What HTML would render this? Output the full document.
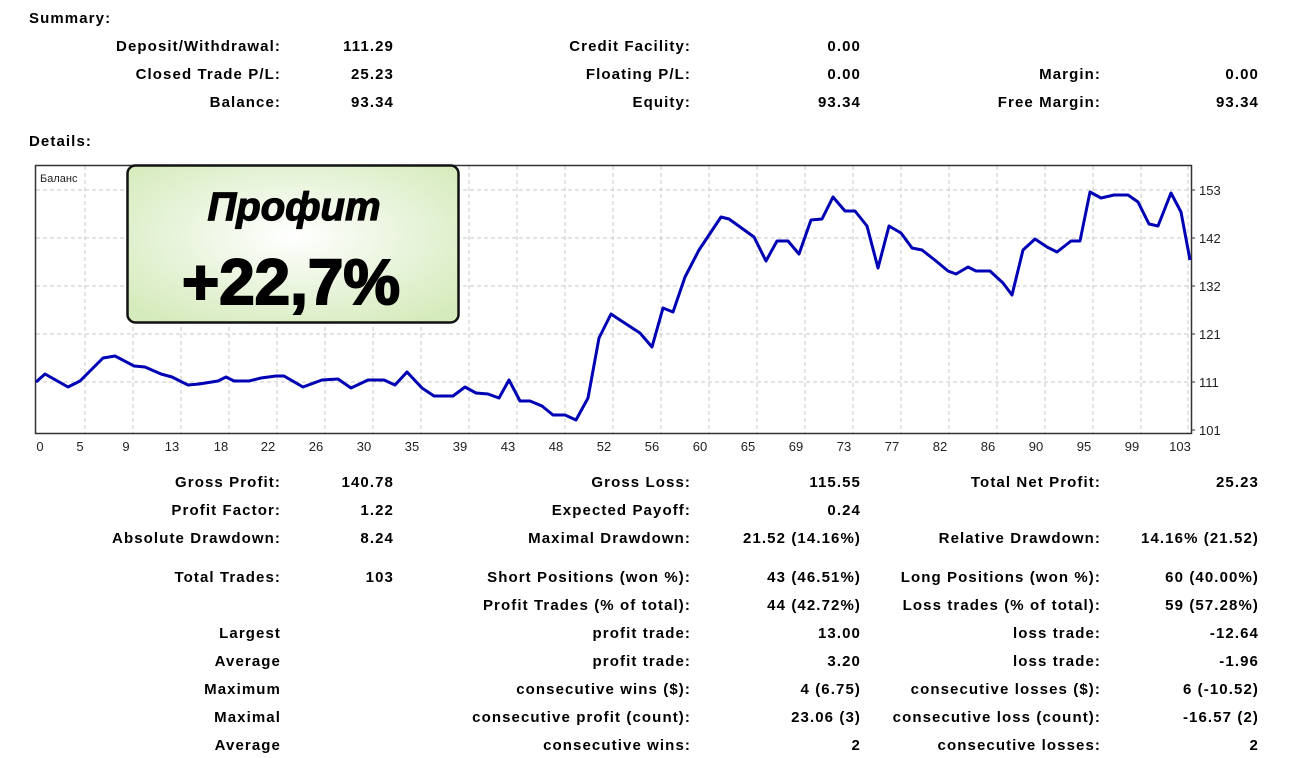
<!DOCTYPE html>
<html><head><meta charset="utf-8"><style>
body{margin:0;width:1304px;height:758px;background:#fff;position:relative;overflow:hidden;font-family:"Liberation Sans","DejaVu Sans",sans-serif;}
.t{position:absolute;font-weight:bold;font-size:15px;color:#000;white-space:nowrap;line-height:18px;letter-spacing:1.1px;}
.r{text-align:right;margin-right:-1px;}
</style></head><body>
<div class="t" style="left:29px;top:10px">Summary:</div>
<div class="t" style="left:29px;top:133px">Details:</div>

<div class="t r" style="right:1024px;top:38px">Deposit/Withdrawal:</div>
<div class="t r" style="right:911px;top:38px">111.29</div>
<div class="t r" style="right:614px;top:38px">Credit Facility:</div>
<div class="t r" style="right:444px;top:38px">0.00</div>

<div class="t r" style="right:1024px;top:66px">Closed Trade P/L:</div>
<div class="t r" style="right:911px;top:66px">25.23</div>
<div class="t r" style="right:614px;top:66px">Floating P/L:</div>
<div class="t r" style="right:444px;top:66px">0.00</div>
<div class="t r" style="right:204px;top:66px">Margin:</div>
<div class="t r" style="right:46px;top:66px">0.00</div>

<div class="t r" style="right:1024px;top:94px">Balance:</div>
<div class="t r" style="right:911px;top:94px">93.34</div>
<div class="t r" style="right:614px;top:94px">Equity:</div>
<div class="t r" style="right:444px;top:94px">93.34</div>
<div class="t r" style="right:204px;top:94px">Free Margin:</div>
<div class="t r" style="right:46px;top:94px">93.34</div>

<svg style="position:absolute;left:0;top:0" width="1304" height="470">
<g stroke="#c8c8c8" stroke-dasharray="4,3" stroke-width="1">
<line x1="36" x2="1190" y1="190" y2="190"/><line x1="36" x2="1190" y1="238" y2="238"/><line x1="36" x2="1190" y1="286" y2="286"/><line x1="36" x2="1190" y1="334" y2="334"/><line x1="36" x2="1190" y1="382" y2="382"/>
<line x1="85" x2="85" y1="166" y2="433"/><line x1="133" x2="133" y1="166" y2="433"/><line x1="181" x2="181" y1="166" y2="433"/><line x1="229" x2="229" y1="166" y2="433"/><line x1="277" x2="277" y1="166" y2="433"/><line x1="325" x2="325" y1="166" y2="433"/><line x1="373" x2="373" y1="166" y2="433"/><line x1="421" x2="421" y1="166" y2="433"/><line x1="469" x2="469" y1="166" y2="433"/><line x1="517" x2="517" y1="166" y2="433"/><line x1="565" x2="565" y1="166" y2="433"/><line x1="613" x2="613" y1="166" y2="433"/><line x1="661" x2="661" y1="166" y2="433"/><line x1="709" x2="709" y1="166" y2="433"/><line x1="757" x2="757" y1="166" y2="433"/><line x1="805" x2="805" y1="166" y2="433"/><line x1="853" x2="853" y1="166" y2="433"/><line x1="901" x2="901" y1="166" y2="433"/><line x1="949" x2="949" y1="166" y2="433"/><line x1="997" x2="997" y1="166" y2="433"/><line x1="1045" x2="1045" y1="166" y2="433"/><line x1="1093" x2="1093" y1="166" y2="433"/><line x1="1141" x2="1141" y1="166" y2="433"/><line x1="1188" x2="1188" y1="166" y2="433"/>
</g>
<rect x="35.5" y="165.5" width="1156" height="268" fill="none" stroke="#333" stroke-width="1.5"/>
<g stroke="#333"><line x1="1191" x2="1195" y1="190" y2="190"/><line x1="1191" x2="1195" y1="238" y2="238"/><line x1="1191" x2="1195" y1="286" y2="286"/><line x1="1191" x2="1195" y1="334" y2="334"/><line x1="1191" x2="1195" y1="382" y2="382"/><line x1="1191" x2="1195" y1="430" y2="430"/></g>
<polyline fill="none" stroke="#0000b4" stroke-width="3" stroke-linejoin="round" points="36,382 45,374 68,387 80,381 103,358 115,356 134,366 145,367 161,374 172,377 188,385 199,384 218,381 226,377 234,381 249,381 261,378 276,376 284,376 303,387 322,380 338,379 351,388 368,380 384,380 395,385 407,372 422,388 434,396 453,396 465,387 476,393 488,394 499,398 509,380 520,401 530,401 542,406 553,415 565,415 576,420 588,398 599,338 611,314 620,320 640,333 652,347 663,308 673,312 685,277 699,250 721,217 729,219 754,237 766,261 777,241 788,241 799,254 811,220 822,219 833,197 845,211 855,211 867,226 878,268 889,226 901,233 912,248 922,250 936,261 948,271 956,274 968,267 976,271 990,271 1003,283 1012,295 1023,250 1035,239 1047,247 1057,252 1071,241 1080,241 1090,192 1101,198 1114,195 1128,195 1138,202 1149,224 1158,226 1171,193 1181,212 1190,260"/>
<text x="40" y="182" font-size="11" font-family="Liberation Sans, sans-serif" fill="#222">Баланс</text>
<g font-size="13" font-family="Liberation Sans, sans-serif" fill="#222">
<text x="1199" y="195">153</text><text x="1199" y="243">142</text><text x="1199" y="291">132</text><text x="1199" y="339">121</text><text x="1199" y="387">111</text><text x="1199" y="435">101</text>
</g>
<g font-size="13" font-family="Liberation Sans, sans-serif" fill="#222" text-anchor="middle">
<text x="40" y="451">0</text><text x="80" y="451">5</text><text x="126" y="451">9</text><text x="172" y="451">13</text><text x="221" y="451">18</text><text x="268" y="451">22</text><text x="316" y="451">26</text><text x="364" y="451">30</text><text x="412" y="451">35</text><text x="460" y="451">39</text><text x="508" y="451">43</text><text x="556" y="451">48</text><text x="604" y="451">52</text><text x="652" y="451">56</text><text x="700" y="451">60</text><text x="748" y="451">65</text><text x="796" y="451">69</text><text x="844" y="451">73</text><text x="892" y="451">77</text><text x="940" y="451">82</text><text x="988" y="451">86</text><text x="1036" y="451">90</text><text x="1084" y="451">95</text><text x="1132" y="451">99</text><text x="1180" y="451">103</text>
</g>
<defs><radialGradient id="g" cx="50%" cy="45%" r="65%"><stop offset="0" stop-color="#ffffff"/><stop offset="1" stop-color="#d6ebbd"/></radialGradient></defs>
<rect x="127.5" y="165.5" width="331" height="157" rx="8" fill="url(#g)" stroke="#111" stroke-width="2.5"/>
<text x="294" y="220" text-anchor="middle" font-size="40" font-weight="bold" font-style="italic" font-family="Liberation Sans, sans-serif" fill="#000" stroke="#000" stroke-width="1.2">Профит</text>
<text x="291" y="304" text-anchor="middle" font-size="64" font-weight="bold" font-family="Liberation Sans, sans-serif" fill="#000" stroke="#000" stroke-width="2" textLength="218" lengthAdjust="spacingAndGlyphs">+22,7%</text>
</svg>

<div class="t r" style="right:1024px;top:474px">Gross Profit:</div>
<div class="t r" style="right:911px;top:474px">140.78</div>
<div class="t r" style="right:614px;top:474px">Gross Loss:</div>
<div class="t r" style="right:444px;top:474px">115.55</div>
<div class="t r" style="right:204px;top:474px">Total Net Profit:</div>
<div class="t r" style="right:46px;top:474px">25.23</div>

<div class="t r" style="right:1024px;top:502px">Profit Factor:</div>
<div class="t r" style="right:911px;top:502px">1.22</div>
<div class="t r" style="right:614px;top:502px">Expected Payoff:</div>
<div class="t r" style="right:444px;top:502px">0.24</div>

<div class="t r" style="right:1024px;top:530px">Absolute Drawdown:</div>
<div class="t r" style="right:911px;top:530px">8.24</div>
<div class="t r" style="right:614px;top:530px">Maximal Drawdown:</div>
<div class="t r" style="right:444px;top:530px">21.52 (14.16%)</div>
<div class="t r" style="right:204px;top:530px">Relative Drawdown:</div>
<div class="t r" style="right:46px;top:530px">14.16% (21.52)</div>

<div class="t r" style="right:1024px;top:569px">Total Trades:</div>
<div class="t r" style="right:911px;top:569px">103</div>
<div class="t r" style="right:614px;top:569px">Short Positions (won %):</div>
<div class="t r" style="right:444px;top:569px">43 (46.51%)</div>
<div class="t r" style="right:204px;top:569px">Long Positions (won %):</div>
<div class="t r" style="right:46px;top:569px">60 (40.00%)</div>

<div class="t r" style="right:614px;top:597px">Profit Trades (% of total):</div>
<div class="t r" style="right:444px;top:597px">44 (42.72%)</div>
<div class="t r" style="right:204px;top:597px">Loss trades (% of total):</div>
<div class="t r" style="right:46px;top:597px">59 (57.28%)</div>

<div class="t r" style="right:1024px;top:625px">Largest</div>
<div class="t r" style="right:614px;top:625px">profit trade:</div>
<div class="t r" style="right:444px;top:625px">13.00</div>
<div class="t r" style="right:204px;top:625px">loss trade:</div>
<div class="t r" style="right:46px;top:625px">-12.64</div>

<div class="t r" style="right:1024px;top:653px">Average</div>
<div class="t r" style="right:614px;top:653px">profit trade:</div>
<div class="t r" style="right:444px;top:653px">3.20</div>
<div class="t r" style="right:204px;top:653px">loss trade:</div>
<div class="t r" style="right:46px;top:653px">-1.96</div>

<div class="t r" style="right:1024px;top:681px">Maximum</div>
<div class="t r" style="right:614px;top:681px">consecutive wins ($):</div>
<div class="t r" style="right:444px;top:681px">4 (6.75)</div>
<div class="t r" style="right:204px;top:681px">consecutive losses ($):</div>
<div class="t r" style="right:46px;top:681px">6 (-10.52)</div>

<div class="t r" style="right:1024px;top:709px">Maximal</div>
<div class="t r" style="right:614px;top:709px">consecutive profit (count):</div>
<div class="t r" style="right:444px;top:709px">23.06 (3)</div>
<div class="t r" style="right:204px;top:709px">consecutive loss (count):</div>
<div class="t r" style="right:46px;top:709px">-16.57 (2)</div>

<div class="t r" style="right:1024px;top:737px">Average</div>
<div class="t r" style="right:614px;top:737px">consecutive wins:</div>
<div class="t r" style="right:444px;top:737px">2</div>
<div class="t r" style="right:204px;top:737px">consecutive losses:</div>
<div class="t r" style="right:46px;top:737px">2</div>
</body></html>
